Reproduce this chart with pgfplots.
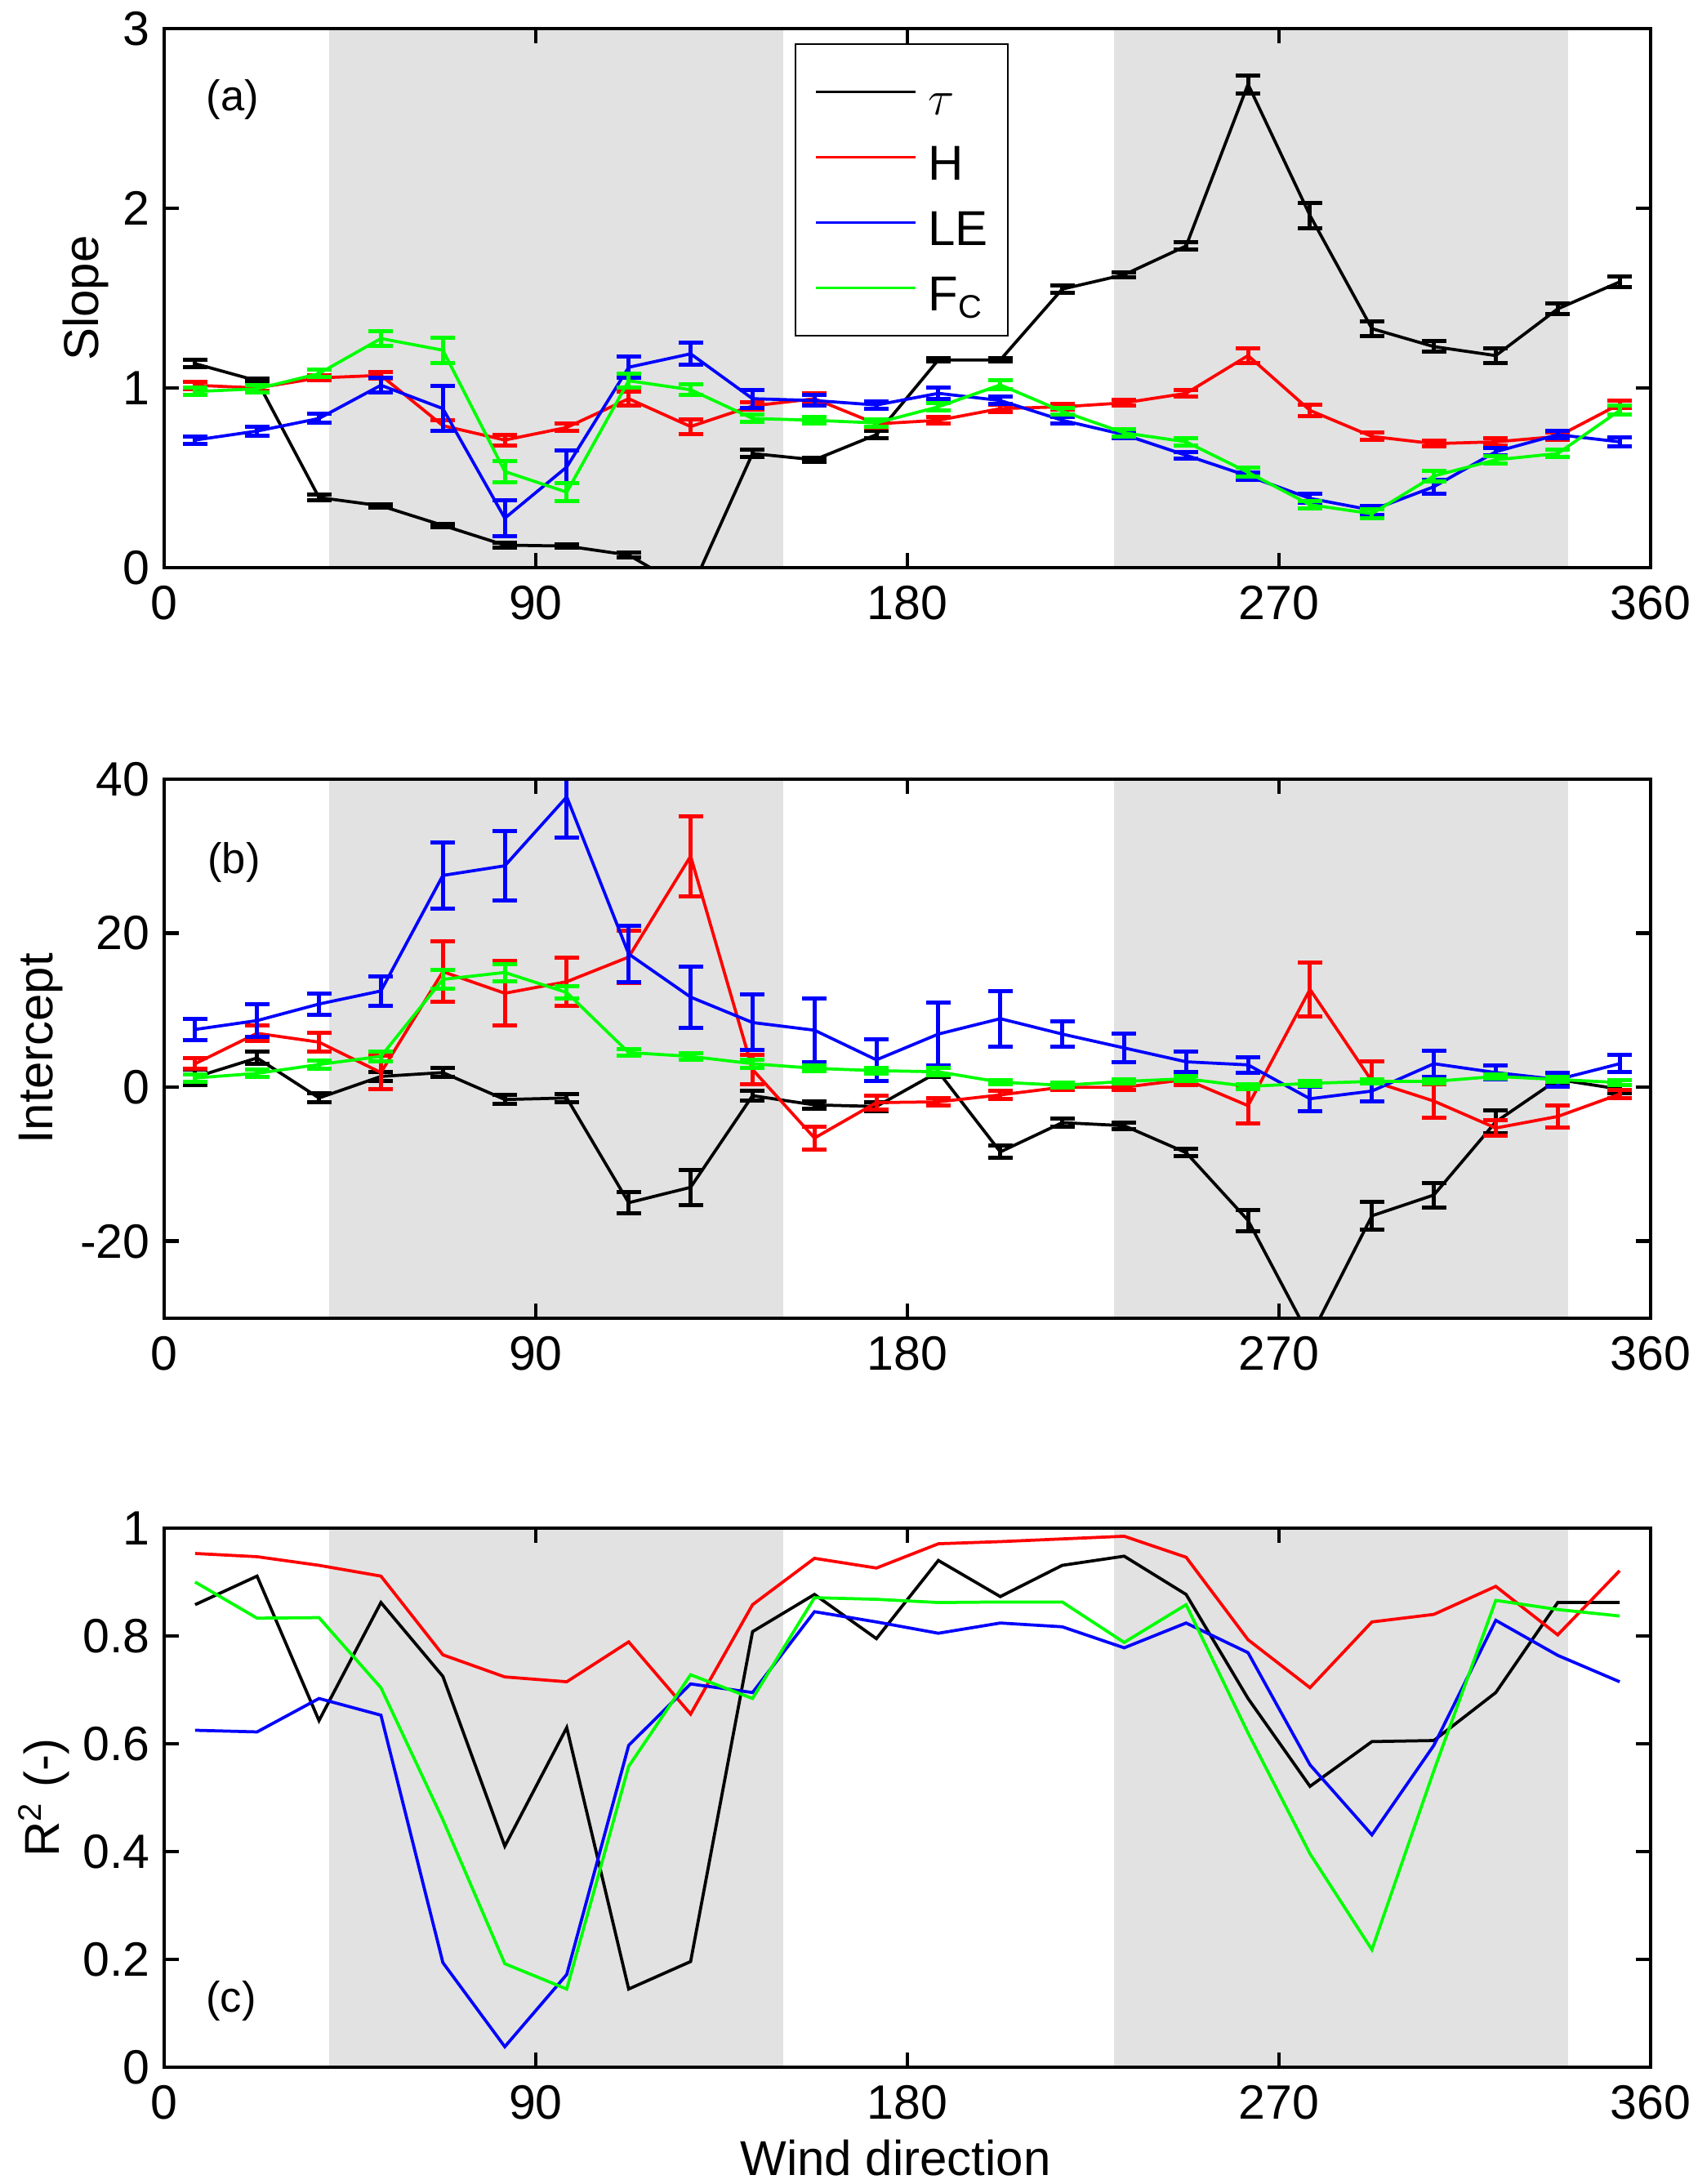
\documentclass[border=0pt]{standalone}
\usepackage{fontspec}
\setmainfont{Liberation Sans}
\usepackage{pgfplots}
\usepackage{pgfplotstable}
\pgfplotsset{compat=1.18}
\definecolor{mgreen}{RGB}{0,255,0}
\definecolor{mred}{RGB}{255,0,0}
\definecolor{mblue}{RGB}{0,0,255}
\definecolor{shade}{RGB}{226,226,226}

\pgfplotstableread{
x     tau    taue   H      He     LE     LEe    FC     FCe
7.5   1.135  0.02   1.015  0.02   0.71   0.02   0.98   0.02
22.5  1.04   0.01   1.00   0.015  0.76   0.025  0.995  0.02
37.5  0.39   0.015  1.056  0.015  0.83   0.025  1.08   0.02
52.5  0.344  0.01   1.07   0.02   1.015  0.04   1.275  0.04
67.5  0.235  0.01   0.79   0.03   0.885  0.125  1.21   0.07
82.5  0.125  0.015  0.71   0.03   0.275  0.10   0.535  0.06
97.5  0.12   0.01   0.78   0.02   0.56   0.09   0.42   0.05
112.5 0.07   0.015  0.94   0.04   1.115  0.06   1.04   0.04
127.5 -0.13  0.02   0.785  0.04   1.19   0.06   0.99   0.03
142.5 0.635  0.02   0.90   0.02   0.94   0.05   0.83   0.02
157.5 0.60   0.01   0.94   0.03   0.93   0.03   0.82   0.02
172.5 0.74   0.02   0.80   0.02   0.905  0.02   0.805  0.02
187.5 1.156  0.01   0.82   0.02   0.97   0.03   0.895  0.02
202.5 1.156  0.01   0.885  0.02   0.93   0.02   1.017  0.025
217.5 1.55   0.02   0.895  0.015  0.82   0.02   0.87   0.02
232.5 1.63   0.015  0.917  0.015  0.74   0.02   0.75   0.02
247.5 1.79   0.02   0.97   0.02   0.625  0.02   0.70   0.02
262.5 2.69   0.05   1.18   0.04   0.51   0.02   0.53   0.025
277.5 1.96   0.07   0.875  0.03   0.385  0.025  0.35   0.02
292.5 1.33   0.04   0.73   0.02   0.32   0.025  0.30   0.025
307.5 1.23   0.03   0.69   0.015  0.45   0.04   0.51   0.03
322.5 1.18   0.04   0.70   0.02   0.645  0.02   0.60   0.02
337.5 1.44   0.03   0.73   0.02   0.74   0.02   0.635  0.02
352.5 1.59   0.03   0.91   0.02   0.70   0.025  0.875  0.025
}\tabA

\pgfplotstableread{
x     tau    taue   H      He     LE     LEe    FC     FCe
7.5   1.3    1.0    3.05   0.7    7.5    1.35   1.2    0.5
22.5  3.8    0.8    7.0    1.0    8.65   2.1    1.8    0.5
37.5  -1.4   0.6    5.85   1.2    10.8   1.35   2.95   0.5
52.5  1.4    0.6    1.9    2.2    12.5   1.9    4.0    0.6
67.5  1.9    0.6    15.0   3.9    27.5   4.3    14.0   1.2
82.5  -1.6   0.6    12.2   4.2    28.75  4.5    14.9   1.1
97.5  -1.4   0.5    13.7   3.1    37.7   5.3    12.3   0.8
112.5 -15.0  1.4    16.9   3.4    17.3   3.7    4.5    0.4
127.5 -13.0  2.3    30.0   5.2    11.7   4.0    4.0    0.4
142.5 -1.1   0.6    2.3    1.9    8.4    3.6    3.05   0.5
157.5 -2.3   0.5    -6.6   1.5    7.4    4.1    2.45   0.4
172.5 -2.5   0.6    -2.0   0.9    3.55   2.7    2.15   0.4
187.5 2.0    0.7    -1.9   0.5    6.9    4.1    2.0    0.5
202.5 -8.4   0.8    -1.0   0.5    8.9    3.6    0.65   0.3
217.5 -4.6   0.5    0.0    0.4    6.9    1.6    0.25   0.3
232.5 -5.0   0.4    0.0    0.4    5.1    1.9    0.75   0.3
247.5 -8.5   0.5    1.0    0.7    3.3    1.3    1.1    0.3
262.5 -17.3  1.4    -2.4   2.3    2.9    1.0    0.1    0.3
277.5 -32.5  1.5    12.7   3.5    -1.5   1.6    0.5    0.3
292.5 -16.7  1.8    0.8    2.6    -0.5   1.3    0.75   0.3
307.5 -14.0  1.6    -1.8   2.2    3.05   1.7    0.75   0.3
322.5 -4.5   1.5    -5.3   1.0    1.9    0.9    1.4    0.3
337.5 1.0    0.5    -3.8   1.4    1.0    0.9    1.0    0.3
352.5 -0.25  0.5    -0.9   0.5    3.05   1.1    0.6    0.3
}\tabB

\pgfplotstableread{
x     tau    H      LE     FC
7.5   0.858  0.953  0.625  0.90
22.5  0.911  0.947  0.622  0.833
37.5  0.643  0.931  0.684  0.834
52.5  0.862  0.911  0.653  0.704
67.5  0.725  0.765  0.194  0.459
82.5  0.41   0.724  0.038  0.192
97.5  0.63   0.715  0.172  0.145
112.5 0.145  0.789  0.597  0.558
127.5 0.196  0.655  0.711  0.728
142.5 0.808  0.858  0.695  0.684
157.5 0.877  0.944  0.845  0.871
172.5 0.795  0.926  0.826  0.868
187.5 0.94   0.971  0.805  0.862
202.5 0.873  0.975  0.824  0.863
217.5 0.931  0.98   0.817  0.863
232.5 0.948  0.985  0.778  0.788
247.5 0.877  0.946  0.824  0.858
262.5 0.684  0.793  0.769  0.62
277.5 0.521  0.704  0.561  0.396
292.5 0.604  0.826  0.431  0.218
307.5 0.606  0.84   0.597  0.55
322.5 0.695  0.892  0.829  0.866
337.5 0.862  0.802  0.764  0.849
352.5 0.862  0.921  0.715  0.837
}\tabC

\pgfplotsset{
  panel/.style={
    scale only axis, width=364pt, height=132pt,
    anchor=south west,
    xmin=0, xmax=360,
    xtick={0,90,180,270,360},
    xticklabels={0,90,180,270,360},
    axis on top,
    axis line style={line width=0.9pt},
    every tick/.style={line width=0.9pt, black},
    major tick length=3.6pt,
    tick align=inside,
    ticklabel style={font=\fontsize{11.8}{14}\selectfont},
    xticklabel style={yshift=-1pt},
    label style={font=\fontsize{12}{14}\selectfont},
    /pgf/number format/assume math mode=true,
  },
  dat/.style={line width=0.75pt, mark=none,
    /pgfplots/error bars/y dir=both,
    /pgfplots/error bars/y explicit,
    /pgfplots/error bars/error bar style={line width=1pt},
    /pgfplots/error bars/error mark options={rotate=90, line width=1pt, mark size=3pt}},
  lin/.style={line width=0.75pt, mark=none},
}

\begin{document}
\begin{tikzpicture}
\path[use as bounding box] (0,0) rectangle (413.4pt,534.8pt);

% ---------------- (a) ----------------
\begin{axis}[panel, at={(40.2pt,395.8pt)},
  ymin=0, ymax=3, ytick={0,1,2,3}, yticklabels={0,1,2,3},
  ylabel={Slope},
  ylabel style={at={(axis description cs:-0.0527,0.5)}, anchor=center},
  legend cell align=left,
  legend style={at={(rel axis cs:0.424,0.973)}, anchor=north west,
    font=\fontsize{12}{14}\selectfont, draw=black, line width=0.5pt,
    inner xsep=4.8pt, inner ysep=3.7pt, row sep=0pt, /tikz/column sep=2.8pt,
    nodes={inner sep=0pt, text height=13.5pt, text depth=2.5pt}},
  legend image code/.code={\draw[#1, line width=0.5pt] (0pt,0pt) -- (24.4pt,0pt);},
]
\addplot[fill=shade, draw=none, forget plot] coordinates {(40,0) (40,3) (150,3) (150,0)} -- cycle;
\addplot[fill=shade, draw=none, forget plot] coordinates {(230,0) (230,3) (340,3) (340,0)} -- cycle;
\addplot[dat, black] table[x=x, y=tau, y error=taue] {\tabA};
\addplot[dat, mred] table[x=x, y=H, y error=He] {\tabA};
\addplot[dat, mblue] table[x=x, y=LE, y error=LEe] {\tabA};
\addplot[dat, mgreen] table[x=x, y=FC, y error=FCe] {\tabA};
\legend{$\tau$, H, LE, F\textsubscript{C}}
\node[font=\fontsize{10.5}{12}\selectfont] at (rel axis cs:0.046,0.868) {(a)};
\end{axis}

% ---------------- (b) ----------------
\begin{axis}[panel, at={(40.2pt,212pt)},
  ymin=-30, ymax=40, ytick={-20,0,20,40}, yticklabels={-20,0,20,40},
  ylabel={Intercept},
  ylabel style={at={(axis description cs:-0.083,0.5)}, anchor=center},
]
\addplot[fill=shade, draw=none, forget plot] coordinates {(40,-30) (40,40) (150,40) (150,-30)} -- cycle;
\addplot[fill=shade, draw=none, forget plot] coordinates {(230,-30) (230,40) (340,40) (340,-30)} -- cycle;
\addplot[dat, black] table[x=x, y=tau, y error=taue] {\tabB};
\addplot[dat, mred] table[x=x, y=H, y error=He] {\tabB};
\addplot[dat, mblue] table[x=x, y=LE, y error=LEe] {\tabB};
\addplot[dat, mgreen] table[x=x, y=FC, y error=FCe] {\tabB};
\node[font=\fontsize{10.5}{12}\selectfont] at (rel axis cs:0.047,0.845) {(b)};
\end{axis}

% ---------------- (c) ----------------
\begin{axis}[panel, at={(40.2pt,28.6pt)},
  ymin=0, ymax=1, ytick={0,0.2,0.4,0.6,0.8,1}, yticklabels={0,0.2,0.4,0.6,0.8,1},
  ylabel={R\textsuperscript{2} (-)},
  ylabel style={at={(axis description cs:-0.081,0.5)}, anchor=center},
  xlabel={Wind direction},
  xlabel style={at={(axis description cs:0.492,-0.169)}, anchor=center},
]
\addplot[fill=shade, draw=none, forget plot] coordinates {(40,0) (40,1) (150,1) (150,0)} -- cycle;
\addplot[fill=shade, draw=none, forget plot] coordinates {(230,0) (230,1) (340,1) (340,0)} -- cycle;
\addplot[lin, black] table[x=x, y=tau] {\tabC};
\addplot[lin, mred] table[x=x, y=H] {\tabC};
\addplot[lin, mblue] table[x=x, y=LE] {\tabC};
\addplot[lin, mgreen] table[x=x, y=FC] {\tabC};
\node[font=\fontsize{10.5}{12}\selectfont] at (rel axis cs:0.045,0.123) {(c)};
\end{axis}
\end{tikzpicture}
\end{document}
